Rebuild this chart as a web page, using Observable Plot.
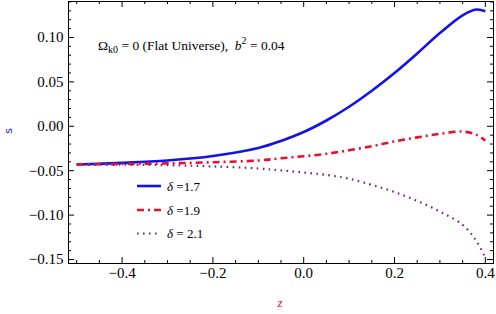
<!DOCTYPE html>
<html><head><meta charset="utf-8">
<script src="https://cdn.jsdelivr.net/npm/d3@7"></script>
<script src="https://cdn.jsdelivr.net/npm/@observablehq/plot@0.6"></script>
<style>body{margin:0;background:#fff}svg{display:block}</style>
</head><body><div id="chart"></div>
<script>
const zVals   = [-0.5, -0.4, -0.3, -0.2, -0.1, -0.05, 0.0, 0.05, 0.1, 0.15, 0.2, 0.25, 0.3, 0.35, 0.38, 0.4];
const sDelta17 = [-0.043, -0.0412, -0.0385, -0.0335, -0.0245, -0.0165, -0.0065, 0.0065, 0.022, 0.040, 0.060, 0.082, 0.105, 0.125, 0.1315, 0.1295];
const sDelta19 = [-0.043, -0.0425, -0.0418, -0.0405, -0.0385, -0.036, -0.0337, -0.031, -0.027, -0.0225, -0.017, -0.0125, -0.0085, -0.006, -0.0095, -0.016];
const sDelta21 = [-0.043, -0.0433, -0.0438, -0.0452, -0.0475, -0.0497, -0.052, -0.0548, -0.059, -0.066, -0.074, -0.084, -0.096, -0.111, -0.129, -0.148];
const seriesNames = ["δ =1.7", "δ =1.9", "δ = 2.1"];
const xMajor = [-0.4, -0.2, 0.0, 0.2, 0.4];
const xMinor = [-0.5, -0.45, -0.35, -0.3, -0.25, -0.15, -0.1, -0.05, 0.05, 0.1, 0.15, 0.25, 0.3, 0.35];
const yMajor = [-0.15, -0.10, -0.05, 0.00, 0.05, 0.10];
const yMinor = [-0.14,-0.13,-0.12,-0.11,-0.09,-0.08,-0.07,-0.06,-0.04,-0.03,-0.02,-0.01,0.01,0.02,0.03,0.04,0.06,0.07,0.08,0.09,0.11,0.12,0.13,0.14];

const styles = [
  {stroke: "#1212e8", strokeWidth: 2.6, dash: null},
  {stroke: "#e8102e", strokeWidth: 2.6, dash: "7,4,2,4"},
  {stroke: "#6a2d70", strokeWidth: 2.2, dash: "1.6,4.4"}
];
const allSeries = [sDelta17, sDelta19, sDelta21];
const rows = allSeries.flatMap((vals, k) => zVals.map((z, i) => ({z, s: vals[i], k})));

const W = 496, H = 314, ML = 68, MR = 3, MT = 1, MB = 51;
const FW = W - ML - MR, FH = H - MT - MB;
const MAJ = 6, MIN = 3;
const SERIF = "Liberation Serif";

const lineMarks = allSeries.map((vals, k) =>
  Plot.line(rows.filter(r => r.k === k), {x: "z", y: "s", curve: "catmull-rom",
    stroke: styles[k].stroke, strokeWidth: styles[k].strokeWidth,
    strokeDasharray: styles[k].dash, strokeLinecap: "butt"}));

const id = d => d;
const fmtY = d3.format(".2f"), fmtX = d3.format(".1f");
const chart = Plot.plot({
  width: W, height: H,
  marginLeft: ML, marginRight: MR, marginTop: MT, marginBottom: MB,
  x: {domain: [-0.518, 0.418], axis: null},
  y: {domain: [-0.1545, 0.1405], axis: null},
  style: {background: "white", color: "black"},
  marks: [
    ...lineMarks,
    Plot.frame({stroke: "black", strokeWidth: 1}),
    Plot.tickY(yMajor, {y: id, insetRight: FW - MAJ, stroke: "black"}),
    Plot.tickY(yMinor, {y: id, insetRight: FW - MIN, stroke: "black"}),
    Plot.tickY(yMajor, {y: id, insetLeft: FW - MAJ, stroke: "black"}),
    Plot.tickY(yMinor, {y: id, insetLeft: FW - MIN, stroke: "black"}),
    Plot.tickX(xMajor, {x: id, insetTop: FH - MAJ, stroke: "black"}),
    Plot.tickX(xMinor, {x: id, insetTop: FH - MIN, stroke: "black"}),
    Plot.tickX(xMajor, {x: id, insetBottom: FH - MAJ, stroke: "black"}),
    Plot.tickX(xMinor, {x: id, insetBottom: FH - MIN, stroke: "black"}),
    Plot.text(yMajor, {y: id, text: fmtY, frameAnchor: "left", dx: -5, textAnchor: "end",
      fontFamily: SERIF, fontSize: 15, fill: "black"}),
    Plot.text(xMajor, {x: id, text: fmtX, frameAnchor: "bottom", dy: 14, textAnchor: "middle",
      fontFamily: SERIF, fontSize: 15, fill: "black"})
  ]
});
document.getElementById("chart").appendChild(chart);

const svg = d3.select(chart);
const g = svg.append("g").attr("text-anchor", "start").attr("font-family", SERIF);
g.append("text").attr("transform", "translate(12,131) rotate(-90)")
  .attr("text-anchor", "middle").attr("font-size", 11).attr("fill", "#1a1ad8")
  .attr("font-family", "DejaVu Sans").text("s");
g.append("text").attr("x", 280).attr("y", 307).attr("text-anchor", "middle")
  .attr("font-size", 13).attr("font-style", "italic").attr("fill", "#e01030").text("z");

const ann = g.append("text").attr("x", 98).attr("y", 50).attr("font-size", 13.5);
ann.append("tspan").text("Ω");
ann.append("tspan").attr("font-size", 10).attr("dy", 3).text("k0");
ann.append("tspan").attr("dy", -3).text(" = 0 (Flat Universe),  ");
ann.append("tspan").attr("font-style", "italic").text("b");
ann.append("tspan").attr("font-size", 10).attr("dy", -6).text("2");
ann.append("tspan").attr("dy", 6).text(" = 0.04");

const legY = [186, 210, 233.5];
seriesNames.forEach((name, k) => {
  g.append("line").attr("x1", 137).attr("x2", 161).attr("y1", legY[k]).attr("y2", legY[k])
    .attr("stroke", styles[k].stroke).attr("stroke-width", styles[k].strokeWidth)
    .attr("stroke-dasharray", styles[k].dash);
  const t = g.append("text").attr("x", 167).attr("y", legY[k] + 4.5).attr("font-size", 13);
  t.append("tspan").attr("font-style", "italic").text(name.slice(0, 1));
  t.append("tspan").text(name.slice(1));
});
</script></body></html>
